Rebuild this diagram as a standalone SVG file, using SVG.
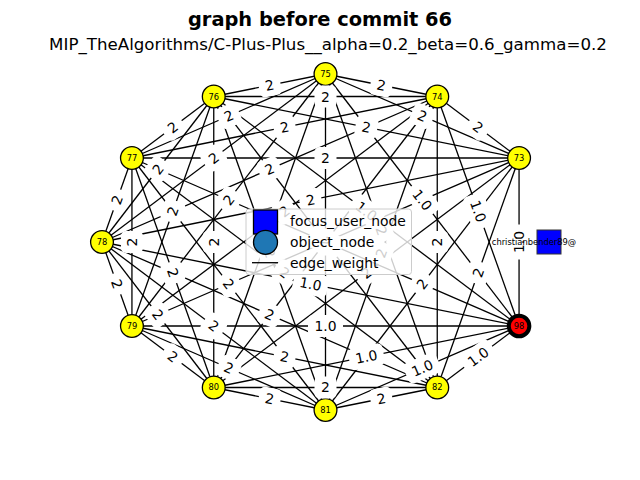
<svg xmlns="http://www.w3.org/2000/svg" width="640" height="480" viewBox="0 0 640 480">
<style>
.e line{stroke:#000;stroke-width:1.3}
.lb rect{fill:#fff}
.lb text{font-family:'DejaVu Sans',sans-serif;font-size:13.9px;text-anchor:middle;dominant-baseline:central;fill:#000}
.n circle{fill:#ffff00;stroke:#000;stroke-width:1.3}
.n text,.sq text{font-family:'DejaVu Sans',sans-serif;font-size:8.33px;text-anchor:middle;dominant-baseline:central;fill:#000}
.lg text{font-family:'DejaVu Sans',sans-serif;font-size:13.9px;dominant-baseline:central;fill:#000}
</style>
<rect width="640" height="480" fill="#fff"/>
<text x="320" y="26" font-family="'DejaVu Sans',sans-serif" font-size="19.4" font-weight="bold" text-anchor="middle">graph before commit 66</text>
<text x="328" y="50" font-family="'DejaVu Sans',sans-serif" font-size="16.67" text-anchor="middle">MIP_TheAlgorithms/C-Plus-Plus__alpha=0.2_beta=0.6_gamma=0.2</text>
<g id="edges" class="e">
<line x1="325.5" y1="74" x2="437.25" y2="96.51"/>
<line x1="325.5" y1="74" x2="519.06" y2="158"/>
<line x1="325.5" y1="74" x2="519.06" y2="326"/>
<line x1="325.5" y1="74" x2="437.25" y2="387.49"/>
<line x1="325.5" y1="74" x2="325.5" y2="410"/>
<line x1="325.5" y1="74" x2="213.75" y2="387.49"/>
<line x1="325.5" y1="74" x2="131.94" y2="326"/>
<line x1="325.5" y1="74" x2="102" y2="242"/>
<line x1="325.5" y1="74" x2="131.94" y2="158"/>
<line x1="325.5" y1="74" x2="213.75" y2="96.51"/>
<line x1="437.25" y1="96.51" x2="519.06" y2="158"/>
<line x1="437.25" y1="96.51" x2="519.06" y2="326"/>
<line x1="437.25" y1="96.51" x2="437.25" y2="387.49"/>
<line x1="437.25" y1="96.51" x2="325.5" y2="410"/>
<line x1="437.25" y1="96.51" x2="213.75" y2="387.49"/>
<line x1="437.25" y1="96.51" x2="131.94" y2="326"/>
<line x1="437.25" y1="96.51" x2="102" y2="242"/>
<line x1="437.25" y1="96.51" x2="131.94" y2="158"/>
<line x1="437.25" y1="96.51" x2="213.75" y2="96.51"/>
<line x1="519.06" y1="158" x2="519.06" y2="326"/>
<line x1="519.06" y1="158" x2="437.25" y2="387.49"/>
<line x1="519.06" y1="158" x2="325.5" y2="410"/>
<line x1="519.06" y1="158" x2="213.75" y2="387.49"/>
<line x1="519.06" y1="158" x2="131.94" y2="326"/>
<line x1="519.06" y1="158" x2="102" y2="242"/>
<line x1="519.06" y1="158" x2="131.94" y2="158"/>
<line x1="519.06" y1="158" x2="213.75" y2="96.51"/>
<line x1="519.06" y1="326" x2="437.25" y2="387.49"/>
<line x1="519.06" y1="326" x2="325.5" y2="410"/>
<line x1="519.06" y1="326" x2="213.75" y2="387.49"/>
<line x1="519.06" y1="326" x2="131.94" y2="326"/>
<line x1="519.06" y1="326" x2="102" y2="242"/>
<line x1="519.06" y1="326" x2="131.94" y2="158"/>
<line x1="519.06" y1="326" x2="213.75" y2="96.51"/>
<line x1="437.25" y1="387.49" x2="325.5" y2="410"/>
<line x1="437.25" y1="387.49" x2="213.75" y2="387.49"/>
<line x1="437.25" y1="387.49" x2="131.94" y2="326"/>
<line x1="437.25" y1="387.49" x2="102" y2="242"/>
<line x1="437.25" y1="387.49" x2="131.94" y2="158"/>
<line x1="437.25" y1="387.49" x2="213.75" y2="96.51"/>
<line x1="325.5" y1="410" x2="213.75" y2="387.49"/>
<line x1="325.5" y1="410" x2="131.94" y2="326"/>
<line x1="325.5" y1="410" x2="102" y2="242"/>
<line x1="325.5" y1="410" x2="131.94" y2="158"/>
<line x1="325.5" y1="410" x2="213.75" y2="96.51"/>
<line x1="213.75" y1="387.49" x2="131.94" y2="326"/>
<line x1="213.75" y1="387.49" x2="102" y2="242"/>
<line x1="213.75" y1="387.49" x2="131.94" y2="158"/>
<line x1="213.75" y1="387.49" x2="213.75" y2="96.51"/>
<line x1="131.94" y1="326" x2="102" y2="242"/>
<line x1="131.94" y1="326" x2="131.94" y2="158"/>
<line x1="131.94" y1="326" x2="213.75" y2="96.51"/>
<line x1="102" y1="242" x2="131.94" y2="158"/>
<line x1="102" y1="242" x2="213.75" y2="96.51"/>
<line x1="131.94" y1="158" x2="213.75" y2="96.51"/>
</g>
<g id="nodes">
<g id="n75" class="n"><circle cx="325.5" cy="74" r="11.4"/><text x="325.5" y="74">75</text></g>
<g id="n74" class="n"><circle cx="437.25" cy="96.51" r="11.4"/><text x="437.25" y="96.51">74</text></g>
<g id="n73" class="n"><circle cx="519.06" cy="158" r="11.4"/><text x="519.06" y="158">73</text></g>
<g id="n98" class="n"><circle cx="519.06" cy="326" r="10.3" style="fill:#ff0000;stroke-width:4"/><text x="519.06" y="326">98</text></g>
<g id="n82" class="n"><circle cx="437.25" cy="387.49" r="11.4"/><text x="437.25" y="387.49">82</text></g>
<g id="n81" class="n"><circle cx="325.5" cy="410" r="11.4"/><text x="325.5" y="410">81</text></g>
<g id="n80" class="n"><circle cx="213.75" cy="387.49" r="11.4"/><text x="213.75" y="387.49">80</text></g>
<g id="n79" class="n"><circle cx="131.94" cy="326" r="11.4"/><text x="131.94" y="326">79</text></g>
<g id="n78" class="n"><circle cx="102" cy="242" r="11.4"/><text x="102" y="242">78</text></g>
<g id="n77" class="n"><circle cx="131.94" cy="158" r="11.4"/><text x="131.94" y="158">77</text></g>
<g id="n76" class="n"><circle cx="213.75" cy="96.51" r="11.4"/><text x="213.75" y="96.51">76</text></g>
</g>
<g id="edge-labels" class="lb">
<g transform="translate(381.38,85.26) rotate(11.39)"><rect x="-11" y="-11" width="22" height="22" rx="5"/><text>2</text></g>
<g transform="translate(422.28,116) rotate(23.46)"><rect x="-11" y="-11" width="22" height="22" rx="5"/><text>2</text></g>
<g transform="translate(422.28,200) rotate(52.47)"><rect x="-17.5" y="-11" width="35" height="22" rx="5"/><text>1.0</text></g>
<g transform="translate(381.38,230.75) rotate(70.38)"><rect x="-11" y="-11" width="22" height="22" rx="5"/><text>2</text></g>
<g transform="translate(325.5,242) rotate(-90)"><rect x="-11" y="-11" width="22" height="22" rx="5"/><text>2</text></g>
<g transform="translate(269.63,230.75) rotate(-70.38)"><rect x="-11" y="-11" width="22" height="22" rx="5"/><text>2</text></g>
<g transform="translate(228.72,200) rotate(-52.47)"><rect x="-11" y="-11" width="22" height="22" rx="5"/><text>2</text></g>
<g transform="translate(213.75,158) rotate(-36.93)"><rect x="-11" y="-11" width="22" height="22" rx="5"/><text>2</text></g>
<g transform="translate(228.72,116) rotate(-23.46)"><rect x="-11" y="-11" width="22" height="22" rx="5"/><text>2</text></g>
<g transform="translate(269.63,85.26) rotate(-11.39)"><rect x="-11" y="-11" width="22" height="22" rx="5"/><text>2</text></g>
<g transform="translate(478.16,127.26) rotate(36.92)"><rect x="-11" y="-11" width="22" height="22" rx="5"/><text>2</text></g>
<g transform="translate(478.16,211.26) rotate(70.38)"><rect x="-17.5" y="-11" width="35" height="22" rx="5"/><text>1.0</text></g>
<g transform="translate(437.25,242) rotate(-90)"><rect x="-11" y="-11" width="22" height="22" rx="5"/><text>2</text></g>
<g transform="translate(381.38,253.26) rotate(-70.38)"><rect x="-11" y="-11" width="22" height="22" rx="5"/><text>2</text></g>
<g transform="translate(325.5,242) rotate(-52.47)"><rect x="-11" y="-11" width="22" height="22" rx="5"/><text>2</text></g>
<g transform="translate(284.6,211.26) rotate(-36.93)"><rect x="-11" y="-11" width="22" height="22" rx="5"/><text>2</text></g>
<g transform="translate(269.63,169.26) rotate(-23.46)"><rect x="-11" y="-11" width="22" height="22" rx="5"/><text>2</text></g>
<g transform="translate(284.6,127.26) rotate(-11.39)"><rect x="-11" y="-11" width="22" height="22" rx="5"/><text>2</text></g>
<g transform="translate(325.5,96.51)"><rect x="-11" y="-11" width="22" height="22" rx="5"/><text>2</text></g>
<g transform="translate(519.06,242) rotate(-90)"><rect x="-17.5" y="-11" width="35" height="22" rx="5"/><text>1.0</text></g>
<g transform="translate(478.16,272.75) rotate(-70.38)"><rect x="-11" y="-11" width="22" height="22" rx="5"/><text>2</text></g>
<g transform="translate(422.28,284) rotate(-52.47)"><rect x="-11" y="-11" width="22" height="22" rx="5"/><text>2</text></g>
<g transform="translate(366.41,272.75) rotate(-36.93)"><rect x="-11" y="-11" width="22" height="22" rx="5"/><text>2</text></g>
<g transform="translate(325.5,242) rotate(-23.46)"><rect x="-11" y="-11" width="22" height="22" rx="5"/><text>2</text></g>
<g transform="translate(310.53,200) rotate(-11.39)"><rect x="-11" y="-11" width="22" height="22" rx="5"/><text>2</text></g>
<g transform="translate(325.5,158)"><rect x="-11" y="-11" width="22" height="22" rx="5"/><text>2</text></g>
<g transform="translate(366.41,127.26) rotate(11.39)"><rect x="-11" y="-11" width="22" height="22" rx="5"/><text>2</text></g>
<g transform="translate(478.16,356.75) rotate(-36.92)"><rect x="-17.5" y="-11" width="35" height="22" rx="5"/><text>1.0</text></g>
<g transform="translate(422.28,368) rotate(-23.46)"><rect x="-17.5" y="-11" width="35" height="22" rx="5"/><text>1.0</text></g>
<g transform="translate(366.41,356.75) rotate(-11.39)"><rect x="-17.5" y="-11" width="35" height="22" rx="5"/><text>1.0</text></g>
<g transform="translate(325.5,326)"><rect x="-17.5" y="-11" width="35" height="22" rx="5"/><text>1.0</text></g>
<g transform="translate(310.53,284) rotate(11.39)"><rect x="-17.5" y="-11" width="35" height="22" rx="5"/><text>1.0</text></g>
<g transform="translate(325.5,242) rotate(23.46)"><rect x="-17.5" y="-11" width="35" height="22" rx="5"/><text>1.0</text></g>
<g transform="translate(366.41,211.26) rotate(36.93)"><rect x="-17.5" y="-11" width="35" height="22" rx="5"/><text>1.0</text></g>
<g transform="translate(381.38,398.75) rotate(-11.39)"><rect x="-11" y="-11" width="22" height="22" rx="5"/><text>2</text></g>
<g transform="translate(325.5,387.49)"><rect x="-11" y="-11" width="22" height="22" rx="5"/><text>2</text></g>
<g transform="translate(284.6,356.75) rotate(11.39)"><rect x="-11" y="-11" width="22" height="22" rx="5"/><text>2</text></g>
<g transform="translate(269.63,314.75) rotate(23.46)"><rect x="-11" y="-11" width="22" height="22" rx="5"/><text>2</text></g>
<g transform="translate(284.6,272.75) rotate(36.93)"><rect x="-11" y="-11" width="22" height="22" rx="5"/><text>2</text></g>
<g transform="translate(325.5,242) rotate(52.47)"><rect x="-11" y="-11" width="22" height="22" rx="5"/><text>2</text></g>
<g transform="translate(269.63,398.75) rotate(11.39)"><rect x="-11" y="-11" width="22" height="22" rx="5"/><text>2</text></g>
<g transform="translate(228.72,368) rotate(23.46)"><rect x="-11" y="-11" width="22" height="22" rx="5"/><text>2</text></g>
<g transform="translate(213.75,326) rotate(36.93)"><rect x="-11" y="-11" width="22" height="22" rx="5"/><text>2</text></g>
<g transform="translate(228.72,284) rotate(52.47)"><rect x="-11" y="-11" width="22" height="22" rx="5"/><text>2</text></g>
<g transform="translate(269.63,253.26) rotate(70.38)"><rect x="-11" y="-11" width="22" height="22" rx="5"/><text>2</text></g>
<g transform="translate(172.85,356.75) rotate(36.92)"><rect x="-11" y="-11" width="22" height="22" rx="5"/><text>2</text></g>
<g transform="translate(157.88,314.75) rotate(52.47)"><rect x="-11" y="-11" width="22" height="22" rx="5"/><text>2</text></g>
<g transform="translate(172.85,272.75) rotate(70.38)"><rect x="-11" y="-11" width="22" height="22" rx="5"/><text>2</text></g>
<g transform="translate(213.75,242) rotate(-90)"><rect x="-11" y="-11" width="22" height="22" rx="5"/><text>2</text></g>
<g transform="translate(116.97,284) rotate(70.38)"><rect x="-11" y="-11" width="22" height="22" rx="5"/><text>2</text></g>
<g transform="translate(131.94,242) rotate(-90)"><rect x="-11" y="-11" width="22" height="22" rx="5"/><text>2</text></g>
<g transform="translate(172.85,211.26) rotate(-70.38)"><rect x="-11" y="-11" width="22" height="22" rx="5"/><text>2</text></g>
<g transform="translate(116.97,200) rotate(-70.38)"><rect x="-11" y="-11" width="22" height="22" rx="5"/><text>2</text></g>
<g transform="translate(157.88,169.26) rotate(-52.47)"><rect x="-11" y="-11" width="22" height="22" rx="5"/><text>2</text></g>
<g transform="translate(172.85,127.26) rotate(-36.92)"><rect x="-11" y="-11" width="22" height="22" rx="5"/><text>2</text></g>
</g>
<g id="user" class="sq"><rect x="537" y="230" width="24" height="24" fill="#0000ff" stroke="#333" stroke-width="1"/><text x="534" y="242">christianbender89@</text></g>
<g id="legend" class="lg">
<rect x="246" y="209" width="165.5" height="65.5" rx="3" fill="#fff" fill-opacity="0.8" stroke="#ccc" stroke-width="1"/>
<rect x="253.5" y="210" width="24" height="24" fill="#0000ff" stroke="#000" stroke-width="1.3"/>
<circle cx="265.5" cy="242.3" r="12" fill="#1f77b4" stroke="#000" stroke-width="1.3"/>
<line x1="252" y1="262.7" x2="278" y2="262.7" stroke="#000" stroke-width="1.3"/>
<text x="290" y="220.5">focus_user_node</text>
<text x="290" y="241.7">object_node</text>
<text x="290" y="262.7">edge_weight</text>
</g>
</svg>
